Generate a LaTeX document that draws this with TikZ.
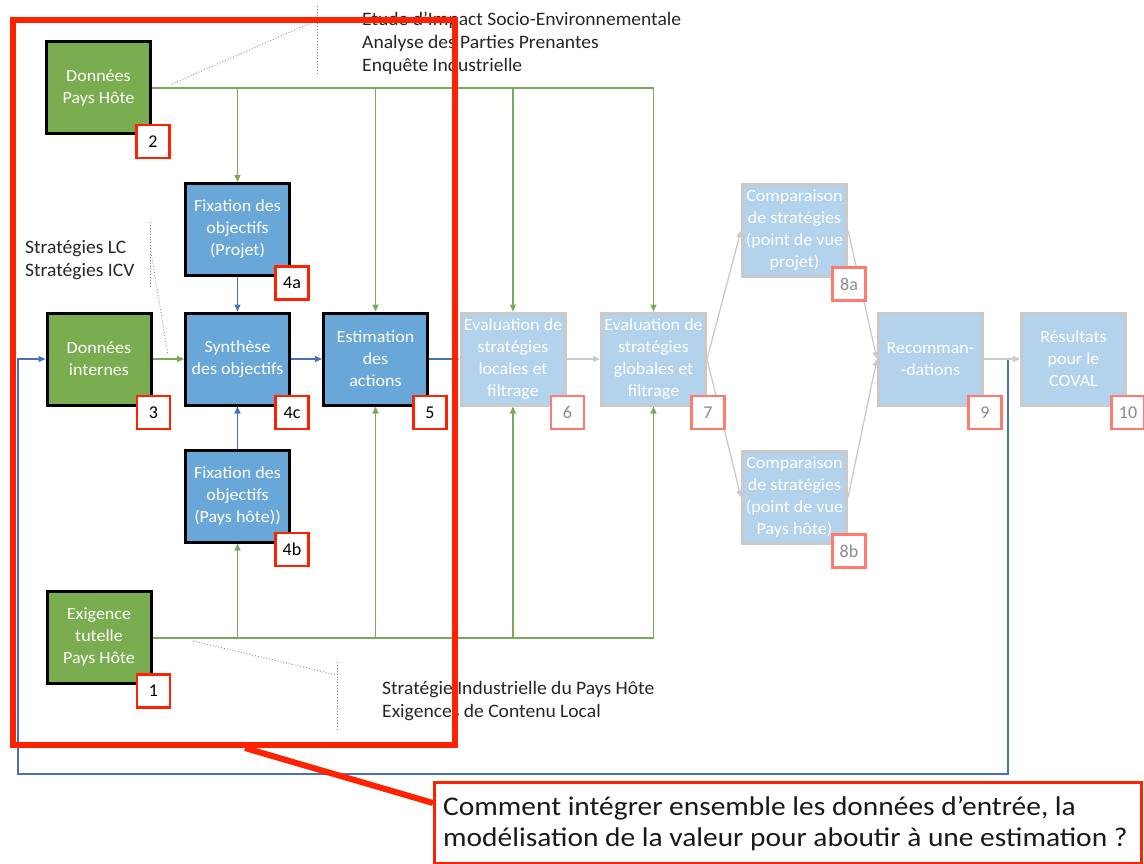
\documentclass[tikz,border=0pt]{standalone}
\usepackage{fontspec}
\setmainfont{Carlito}
\newfontfamily\boxfont[FakeStretch=1.06]{Carlito}
\newfontfamily\annfont[FakeStretch=1.03]{Carlito}
\newfontfamily\callfont[FakeStretch=1.09]{Carlito}
\usetikzlibrary{arrows.meta,calc}
\definecolor{gfill}{HTML}{79AD4F}
\definecolor{bfill}{HTML}{69A7D9}
\definecolor{ffill}{HTML}{B3D2EC}
\definecolor{fborder}{HTML}{CACACA}
\definecolor{redc}{HTML}{FF2200}
\definecolor{fred}{HTML}{FF7B70}
\definecolor{gline}{HTML}{7AA95C}
\definecolor{bline}{HTML}{4A70B5}
\definecolor{dotc}{HTML}{8C8C8C}
\begin{document}
\begin{tikzpicture}[x=1pt,y=-1pt,
  base/.style={minimum width=104pt, minimum height=92pt, align=center, text=white,
    font=\boxfont\fontsize{17}{22}\selectfont, inner sep=0pt},
  gbox/.style={base, fill=gfill, draw=black, line width=3pt},
  bbox/.style={base, fill=bfill, draw=black, line width=3pt},
  fbox/.style={base, fill=ffill, draw=fborder, line width=3pt},
  lab/.style={draw=redc, fill=white, line width=2.5pt, minimum size=33pt, inner sep=0pt,
    font=\fontsize{18}{19}\selectfont},
  flab/.style={lab, draw=fred, text=black!45},
  ann/.style={anchor=base west, inner sep=0pt, font=\annfont\fontsize{19}{23}\selectfont, text=black!85},
  garrow/.style={draw=gline, line width=1.3pt, -{Triangle[length=7pt,width=6pt]}},
  gtrunk/.style={draw=gline, line width=2pt},
  barrow/.style={draw=bline, line width=1.3pt, -{Triangle[length=7pt,width=6pt]}},
  farrow/.style={draw=fborder, line width=1.3pt, -{Triangle[length=7pt,width=6pt]}},
  dotl/.style={draw=dotc, dotted, line width=0.9pt},
  redl/.style={draw=redc, line width=6pt},
  calltext/.style={anchor=base west, inner sep=0pt, font=\callfont\fontsize{27}{31}\selectfont, text=black!90}]
\useasboundingbox (0,0) rectangle (1144,864);

% annotations
\node[ann] (t1) at (362,26) {Etude d’Impact Socio-Environnementale};
\node[ann] (t2) at (362,49) {Analyse des Parties Prenantes};
\node[ann] (t3) at (362,72) {Enquête Industrielle};
\node[ann] (s1) at (25,253) {Stratégies LC};
\node[ann] (s2) at (25,276) {Stratégies ICV};
\node[ann] (b1) at (382,694) {Stratégie Industrielle du Pays Hôte};
\node[ann] (b2) at (382,717) {Exigences de Contenu Local};

% dotted callout lines
\draw[dotl] (172,84) -- (315,21);
\draw[dotl] (317,6) -- (317,73);
\draw[dotl] (150,222) -- (150,288);
\draw[dotl] (151,252) -- (168,355);
\draw[dotl] (193,641) -- (337,675);
\draw[dotl] (337,662) -- (337,729);

% main boxes
\node[gbox] (n2) at (98.5,88) {Données\\Pays Hôte};
\node[gbox] (n3) at (99,359) {Données\\internes};
\node[gbox] (n1) at (99,637.5) {Exigence\\tutelle\\Pays Hôte};
\node[bbox] (n4a) at (237.5,229.5) {Fixation des\\objectifs\\(Projet)};
\node[bbox] (n4c) at (237.5,359) {Synthèse\\des objectifs};
\node[bbox] (n4b) at (237.5,496) {Fixation des\\objectifs\\(Pays hôte))};
\node[bbox] (n5) at (375.5,359) {Estimation\\des\\actions};
\node[fbox] (n6) at (513,359) {Evaluation de\\stratégies\\locales et\\filtrage};
\node[fbox] (n7) at (653.5,359) {Evaluation de\\stratégies\\globales et\\filtrage};
\node[fbox] (n8a) at (794.5,230.5) {Comparaison\\de stratégies\\(point de vue\\projet)};
\node[fbox] (n8b) at (794.5,497.5) {Comparaison\\de stratégies\\(point de vue\\Pays hôte)};
\node[fbox] (n9) at (930.5,359) {Recomman-\\-dations};
\node[fbox] (n10) at (1073.5,359) {Résultats\\pour le\\COVAL};

% green connectors
\coordinate (gtR) at (n7.north |- n2.east);
\draw[gtrunk] (n2.east) -- (gtR);
\draw[garrow] (n4a.north |- n2.east) -- (n4a.north);
\draw[garrow] (n5.north |- n2.east) -- (n5.north);
\draw[garrow] (n6.north |- n2.east) -- (n6.north);
\draw[garrow] (gtR) -- (n7.north);
\coordinate (gbR) at (n7.south |- n1.east);
\draw[gtrunk] (n1.east) -- (gbR);
\draw[garrow] (n4b.south |- n1.east) -- (n4b.south);
\draw[garrow] (n5.south |- n1.east) -- (n5.south);
\draw[garrow] (n6.south |- n1.east) -- (n6.south);
\draw[garrow] (gbR) -- (n7.south);
\draw[garrow] (n3.east) -- (n4c.west);

% blue connectors
\draw[barrow] (n4a.south) -- (n4c.north);
\draw[barrow] (n4b.north) -- (n4c.south);
\draw[barrow] (n4c.east) -- (n5.west);
\draw[barrow] (n5.east) -- (n6.west);
\coordinate (fb1) at (1008,359);
\coordinate (fb2) at (1008,774);
\coordinate (fb3) at (18,774);
\coordinate (fb4) at (18,359);
\draw[barrow] (n9.east) -- (fb1) -- (fb2) -- (fb3) -- (fb4) -- (n3.west);

% faded connectors
\draw[farrow] (n6.east) -- (n7.west);
\draw[farrow] (n7.east) -- (n8a.west);
\draw[farrow] (n7.east) -- (n8b.west);
\draw[farrow] (n8a.east) -- (n9.west);
\draw[farrow] (n8b.east) -- (n9.west);
\draw[farrow] (n9.east) -- (n10.west);

% number labels
\node[lab] (l2) at ($(n2.south east)+(1,6)$) {2};
\node[lab] (l3) at ($(n3.south east)+(1,6)$) {3};
\node[lab] (l1) at ($(n1.south east)+(1,6)$) {1};
\node[lab] (l4a) at ($(n4a.south east)+(1,6)$) {4a};
\node[lab] (l4c) at ($(n4c.south east)+(1,6)$) {4c};
\node[lab] (l4b) at ($(n4b.south east)+(1,6)$) {4b};
\node[lab] (l5) at ($(n5.south east)+(1,6)$) {5};
\node[flab] (l6) at ($(n6.south east)+(1,6)$) {6};
\node[flab] (l7) at ($(n7.south east)+(1,6)$) {7};
\node[flab] (l8a) at ($(n8a.south east)+(1,6)$) {8a};
\node[flab] (l8b) at ($(n8b.south east)+(1,6)$) {8b};
\node[flab] (l9) at ($(n9.south east)+(1,6)$) {9};
\node[flab] (l10) at ($(n10.south east)+(1,6)$) {10};

% big red frame and callout
\draw[redl] (13,20) rectangle (455,745);
\coordinate (rc1) at (245,748);
\node[draw=redc, line width=3pt, fill=white, minimum width=707pt, minimum height=81pt,
  anchor=north west, inner sep=0pt] (cb) at (433,781) {};
\draw[redl] (rc1) -- (cb.west |- 0,803);
\node[calltext] (c1) at (443,815) {Comment intégrer ensemble les données d’entrée, la};
\node[calltext] (c2) at (443,846) {modélisation de la valeur pour aboutir à une estimation ?};
\end{tikzpicture}
\end{document}
